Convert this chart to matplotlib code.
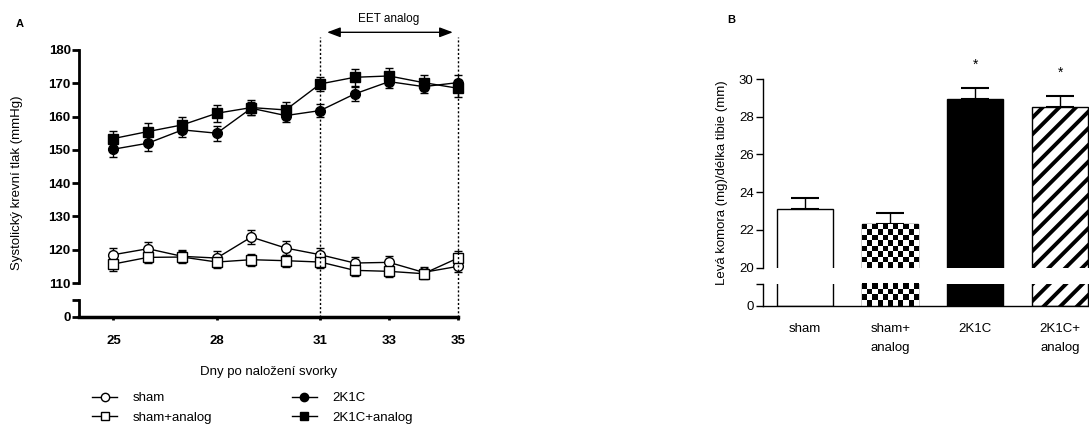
import numpy as np
import matplotlib
matplotlib.use("Agg")
import matplotlib.pyplot as plt
from matplotlib.transforms import blended_transform_factory
from matplotlib.lines import Line2D

plt.rcParams['font.family'] = ['Liberation Sans', 'DejaVu Sans']

# --- Panel A: systolic pressure over days ---
days = [25, 26, 27, 28, 29, 30, 31, 32, 33, 34, 35]
day_ticks = [25, 28, 31, 33, 35]

sham_mean = [118.5, 120.3, 118.0, 117.5, 123.8, 120.5, 118.5, 116.0, 116.2, 113.2, 115.0]
sham_sem = [2.0, 2.0, 1.8, 2.0, 2.0, 2.0, 2.0, 1.8, 1.8, 1.5, 1.8]
sham_an_mean = [115.7, 117.7, 117.8, 116.3, 117.0, 116.7, 116.3, 113.8, 113.5, 112.8, 117.5]
sham_an_sem = [2.2, 1.8, 1.8, 1.8, 1.8, 1.8, 1.8, 1.8, 1.8, 1.5, 2.0]
k_mean = [150.2, 152.0, 156.0, 155.0, 162.5, 160.3, 161.8, 166.8, 170.5, 169.0, 170.2]
k_sem = [2.2, 2.2, 2.0, 2.2, 2.0, 2.0, 2.0, 2.2, 2.0, 2.0, 2.2]
k_an_mean = [153.4, 155.5, 157.5, 161.0, 162.7, 162.0, 169.8, 171.8, 172.2, 170.2, 168.5]
k_an_sem = [2.2, 2.5, 2.5, 2.5, 2.2, 2.5, 2.2, 2.5, 2.5, 2.2, 2.5]

treat_start, treat_end = 31, 35

# --- Panel B: LV weight / tibia length ---
groups = ['sham', 'sham+\nanalog', '2K1C', '2K1C+\nanalog']
lv_mean = [23.09, 22.31, 28.93, 28.49]
lv_sem = [0.61, 0.60, 0.59, 0.61]
signif = ['', '', '*', '*']

W, H = 1089, 432
fig = plt.figure(figsize=(W / 100, H / 100), dpi=100)


def px(l, t, r, b):
    return [l / W, 1 - b / H, (r - l) / W, (b - t) / H]


# ---------------- Panel A ----------------
axA = fig.add_axes(px(79, 50, 458, 283))
axA0 = fig.add_axes(px(79, 300, 458, 316.7))

series = [
    ('sham', sham_mean, sham_sem, 'o', 'white'),
    ('sham+analog', sham_an_mean, sham_an_sem, 's', 'white'),
    ('2K1C', k_mean, k_sem, 'o', 'black'),
    ('2K1C+analog', k_an_mean, k_an_sem, 's', 'black'),
]
handles = []
for name, m, e, mk, fc in series:
    cont = axA.errorbar(days, m, yerr=e, fmt='-' + mk, color='black', mfc=fc,
                        mec='black', ms=7, mew=1, lw=1, elinewidth=1,
                        capsize=3, capthick=1, label=name)
    for art in cont.get_children():
        art.set_clip_on(False)
    handles.append(Line2D([], [], color='black', lw=1, marker=mk, mfc=fc,
                          mec='black', ms=6, mew=1))

axA.set_xlim(24, 35)
axA0.set_xlim(24, 35)
axA.set_ylim(110, 180)
axA.set_yticks(range(110, 181, 10))
axA0.set_ylim(0, 5)
axA0.set_yticks([0, 5])
axA0.set_yticklabels(['0', ''])
axA0.set_xticks(day_ticks)
axA.set_xticks([])

for a in (axA, axA0):
    for s in ('top', 'right'):
        a.spines[s].set_visible(False)
    a.spines['left'].set_linewidth(2)
    a.spines['bottom'].set_linewidth(2.5)
    a.tick_params(axis='y', length=5, width=2, pad=1, labelsize=9.5)
    a.tick_params(axis='x', length=2, width=2, pad=11, labelsize=9.5)
    for lab in a.get_yticklabels() + a.get_xticklabels():
        lab.set_fontweight('bold')
axA.spines['bottom'].set_visible(False)
axA0.set_xlabel('Dny po naložení svorky', fontsize=9.5, labelpad=14)

fig.text(17 / W, 1 - 183 / H, 'Systolický krevní tlak (mmHg)', rotation=90,
         ha='center', va='center', fontsize=9.5)
fig.text(20 / W, 1 - 24 / H, 'A', fontweight='bold', fontsize=8,
         ha='center', va='center')

# treatment window
trA = blended_transform_factory(axA.transData, fig.transFigure)
y_top = 1 - 37 / H
y_bot = 1 - 316.7 / H
for xv in (treat_start, treat_end):
    fig.add_artist(Line2D([xv, xv], [y_bot, y_top], transform=trA,
                          color='black', lw=1, ls=(0, (1.5, 1.5))))
y_arr = 1 - 32.3 / H
axA.annotate('', xy=(treat_end - 0.15, y_arr), xytext=(treat_start + 0.2, y_arr),
             xycoords=trA, textcoords=trA, annotation_clip=False,
             arrowprops=dict(arrowstyle='<|-|>,head_length=0.8,head_width=0.3',
                             color='black', lw=1, shrinkA=0, shrinkB=0,
                             mutation_scale=10))
axA.text((treat_start + treat_end) / 2, 1 - 19 / H, 'EET analog', transform=trA,
         ha='center', va='center', fontsize=8.5)

fig.legend(handles, [s[0] for s in series], ncol=2, loc='upper left',
           bbox_to_anchor=(92 / W, 1 - 392 / H), frameon=False, fontsize=9.5,
           borderaxespad=0, borderpad=0, handlelength=1.9, handletextpad=1.2,
           labelspacing=0.55, columnspacing=6.0)

# ---------------- Panel B ----------------
axB = fig.add_axes(px(762.7, 79, 1102.7, 267.7))
axB0 = fig.add_axes(px(762.7, 284, 1102.7, 306))

xpos = np.arange(len(groups))
styles = [
    dict(color='white', edgecolor='black'),
    dict(color='white', edgecolor='black'),
    dict(color='black', edgecolor='black'),
    dict(color='white', edgecolor='black', hatch='//'),
]
plt.rcParams['hatch.linewidth'] = 2.8
for a, lo, hi in ((axB, 20, 30), (axB0, 0, 1)):
    a.set_xlim(-0.5, 3.5)
    a.set_ylim(lo, hi)
    for i in range(len(groups)):
        b = a.bar(xpos[i], lv_mean[i], width=0.66, lw=1, zorder=2, **styles[i])
        if i == 1:
            # checkerboard fill for the sham+analog bar
            patch = b.patches[0]
            x0, x1 = patch.get_x(), patch.get_x() + patch.get_width()
            y0, y1 = lo, min(hi, patch.get_height())
            (dx0, dy0), (dx1, dy1) = a.transData.transform([(x0, y0), (x1, y1)])
            nc = max(1, int(round((dx1 - dx0) / 5.2)))
            nr = max(1, int(round((dy1 - dy0) / 5.2)))
            checker = np.add.outer(np.arange(nr), np.arange(nc)) % 2
            im = a.imshow(checker, cmap='gray', extent=[x0, x1, y0, y1],
                          aspect='auto', interpolation='nearest', zorder=2.5)
            im.set_clip_path(patch)
    a.set_xlim(-0.5, 3.5)
    a.set_ylim(lo, hi)
    for s in ('top', 'right'):
        a.spines[s].set_visible(False)
    a.spines['left'].set_linewidth(1)
    a.spines['bottom'].set_linewidth(1)
    a.tick_params(axis='y', length=5, width=1, pad=1.5, labelsize=9.5)

axB.errorbar(xpos, lv_mean, yerr=[np.zeros(len(lv_sem)), lv_sem], fmt='none',
             ecolor='black', elinewidth=1, capsize=10, capthick=1.5, zorder=1)
for i, s in enumerate(signif):
    if s:
        axB.text(xpos[i], lv_mean[i] + lv_sem[i] + 0.85, s, ha='center',
                 va='bottom', fontsize=10, clip_on=False)

axB.spines['bottom'].set_visible(False)
axB.set_xticks([])
axB.set_yticks(range(20, 31, 2))
axB0.set_yticks([0, 1])
axB0.set_yticklabels(['0', ''])
axB0.set_xticks(xpos)
axB0.set_xticklabels(groups, linespacing=1.8)
axB0.tick_params(axis='x', length=0, pad=12, labelsize=9.5)

fig.text(722 / W, 1 - 183 / H, 'Levá komora (mg)/délka tibie (mm)', rotation=90,
         ha='center', va='center', fontsize=9.5)
fig.text(731 / W, 1 - 20 / H, 'B', fontweight='bold', fontsize=8,
         ha='center', va='center')

fig.savefig('out.png', dpi=100)
